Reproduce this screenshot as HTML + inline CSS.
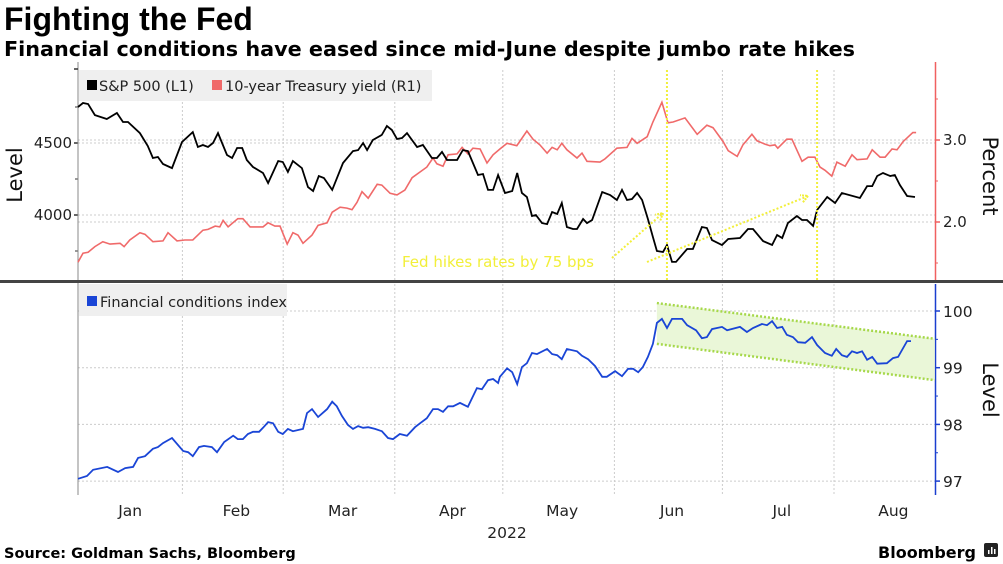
<!DOCTYPE html>
<html><head><meta charset="utf-8">
<style>
body{margin:0;background:#fff;width:1003px;height:564px;overflow:hidden;font-family:"DejaVu Sans","Liberation Sans",sans-serif;}
svg{display:block}
</style></head>
<body>
<svg id="c" width="1003" height="564" xmlns="http://www.w3.org/2000/svg">
<text x="4" y="30" font-family="Liberation Sans, sans-serif" font-weight="bold" font-size="32" fill="#000">Fighting the Fed</text>
<text x="4" y="56" font-family="DejaVu Sans, sans-serif" font-weight="bold" font-size="20.5" textLength="851" lengthAdjust="spacingAndGlyphs" fill="#000">Financial conditions have eased since mid-June despite jumbo rate hikes</text>
<g id="grid"></g>
<g id="marks"></g>
<text x="4" y="558" font-family="DejaVu Sans, sans-serif" font-weight="bold" font-size="14.5">Source: Goldman Sachs, Bloomberg</text>
<text x="976" y="558" text-anchor="end" font-family="DejaVu Sans, sans-serif" font-weight="bold" font-size="16">Bloomberg</text>
<g><rect x="984" y="543" width="14" height="14" rx="2" fill="#222"/><rect x="988" y="550" width="1.5" height="4" fill="#fff"/><rect x="991" y="547" width="1.5" height="7" fill="#fff"/><rect x="994" y="549" width="1.5" height="5" fill="#fff"/></g>
</svg>
<script>
const monthLabels=["Jan","Feb","Mar","Apr","May","Jun","Jul","Aug"];
const monthStarts=[0,31,59,90,120,151,181,212,243];
const spxTicks=[4000,4500];
const yldTicks=[2.0,3.0];
const fciTicks=[97,98,99,100];
const fedHikeDays=[165.6,207.3];
const spxDays=[2,3.4,4.8,6.7,10,12.8,14.5,15.9,19.2,21.4,22.8,24.2,25.6,28.1,30.9,33.9,35.3,36.7,38.1,39.5,40.9,43.4,44.8,46.2,47.6,48.9,50.6,53.4,54.8,57.6,58.9,60.3,61.7,64.2,65.9,67.3,68.9,70.3,72.6,75.6,78.4,79.8,81.2,82.3,83.9,86.4,87.8,89.2,90.6,92,93.4,96.2,97.8,100.3,101.7,103.1,104.5,107.3,108.9,110.3,113.1,114.5,115.9,117.3,118.7,120.6,122.6,124,125.3,126.7,128.1,129.2,130.9,132.3,133.7,135.1,136.4,137.8,139.5,140.6,142.3,143.4,144.8,147.6,149.8,151.7,153.1,154.5,155.9,157.3,158.7,160.3,161.7,162.8,164.5,165.6,167,168.1,171.2,172.8,175.3,176.7,178.1,180.9,182.6,185.9,188.1,189.5,192.3,194.8,196.2,197.6,199.2,201.7,203.1,204.5,206.2,207.3,210.1,212.3,214.2,219.2,221.2,222.6,224,225.6,227.6,228.9,230.3,232.3,234.5];
const spxValues=[4750,4778,4771,4694,4667,4708,4646,4646,4569,4479,4396,4403,4354,4326,4507,4576,4472,4486,4472,4500,4569,4417,4396,4465,4465,4382,4333,4292,4222,4375,4368,4299,4375,4326,4194,4167,4271,4257,4174,4361,4444,4451,4500,4451,4521,4556,4618,4590,4528,4535,4569,4472,4486,4396,4396,4438,4382,4382,4451,4444,4278,4285,4174,4174,4278,4153,4167,4292,4153,4125,3993,4000,3944,3937,4021,4007,4083,3917,3903,3903,3972,3944,3965,4160,4139,4104,4174,4104,4111,4153,4104,3972,3847,3750,3743,3792,3674,3674,3764,3764,3917,3910,3826,3792,3833,3840,3903,3903,3819,3792,3861,3840,3944,3993,3965,3965,3924,4035,4125,4083,4153,4118,4201,4201,4271,4292,4271,4278,4208,4132,4125];
const yldDays=[2,3.4,4.8,6.7,8.9,10.9,13.7,14.8,16.4,19.2,20.6,22.8,25.6,27,29.5,31.7,33.9,36.7,38.1,40.1,41.4,42.3,43.7,46.4,47.8,49.8,53.4,54.8,56.7,58.1,60.1,61.7,63.1,64.5,67,68.7,71.2,72.6,74.8,76.7,78.1,79.5,80.9,82.6,85.1,86.4,88.7,90.6,92.8,94.8,97,98.9,100.6,101.7,103.4,104.8,107.3,108.7,110.3,111.7,113.7,115.6,117.3,119.2,121.2,123.9,126.7,128.4,130.3,132.3,133.7,135.1,136.4,137.8,140.6,142,143.4,147,148.4,151.7,154.5,155.9,157.3,160.1,161.7,164.2,165.9,167.3,170.6,174,176.7,178.4,181.2,182.6,185.1,186.7,189.2,190.6,192.8,194.2,195.6,196.4,198.9,200.3,203.1,204.8,206.7,208.1,209.5,211.4,212.8,215.1,217,218.4,221.2,222.6,224.8,226.2,228.1,229.5,231.2,233.9,234.8];
const yldValues=[1.51,1.62,1.63,1.70,1.76,1.73,1.74,1.70,1.78,1.87,1.85,1.76,1.77,1.87,1.77,1.78,1.78,1.90,1.91,1.95,1.94,2.02,1.94,2.04,2.04,1.94,1.94,1.99,1.95,1.95,1.73,1.87,1.84,1.74,1.84,1.96,1.99,2.12,2.18,2.17,2.15,2.24,2.37,2.29,2.46,2.45,2.35,2.33,2.39,2.54,2.61,2.67,2.78,2.71,2.68,2.82,2.83,2.91,2.83,2.90,2.89,2.72,2.82,2.89,2.96,2.93,3.11,3.01,2.94,2.84,2.91,2.88,2.96,2.88,2.78,2.84,2.74,2.73,2.77,2.90,2.91,3.02,2.96,3.04,3.22,3.46,3.21,3.22,3.27,3.07,3.18,3.15,2.98,2.87,2.80,2.94,3.07,2.99,2.95,2.93,2.94,2.90,3.01,3.01,2.74,2.79,2.79,2.67,2.63,2.56,2.73,2.68,2.82,2.76,2.77,2.88,2.79,2.79,2.89,2.88,2.98,3.09,3.09];
const fciDays=[2,4.5,6.2,10.1,13.1,15.1,17.3,18.7,20.6,22.8,24.2,25.6,28.1,31.2,32.6,33.9,35.6,37,39.2,40.6,42.6,45.1,46.4,47.8,49.2,50.6,52.3,53.4,54.8,56.2,57.6,58.9,60.3,61.7,64.5,65.6,67,68.7,71.2,72.6,73.9,75.3,77,78.4,79.8,81.2,82.6,84.5,86.4,88.1,89.5,91.4,93.4,95.6,97,98.9,100.6,102,103.4,104.8,106.2,108.1,110.3,112.8,114.2,115.9,117.3,118.7,119.2,121.2,122.6,124,125.3,126.7,128.1,129.5,132.3,133.7,135.1,136.4,137.8,140.6,142,143.7,145.6,147.6,148.9,151.2,153.1,154.8,156.2,157.6,158.9,160.3,161.7,162.8,164.2,165.6,167,169.8,171.2,173.7,175.3,176.7,178.1,180.9,182.3,185.9,187.8,189.5,192,193.4,194.8,196.2,197.6,198.9,200.6,202,204,205.9,207.3,209.5,211.4,212.6,214.2,215.6,217,218.4,219.8,221.2,222.6,224,226.7,228.4,229.8,232.3,233.4];
const fciValues=[97.04,97.09,97.20,97.25,97.16,97.23,97.25,97.41,97.44,97.57,97.60,97.67,97.76,97.53,97.51,97.44,97.60,97.62,97.60,97.51,97.69,97.80,97.74,97.74,97.83,97.87,97.87,97.94,98.04,98.02,97.87,97.83,97.92,97.88,97.92,98.20,98.27,98.13,98.27,98.40,98.32,98.15,97.99,97.92,97.97,97.94,97.95,97.92,97.88,97.76,97.74,97.83,97.80,97.95,98.02,98.11,98.27,98.27,98.22,98.32,98.32,98.38,98.31,98.64,98.62,98.78,98.80,98.73,98.84,98.99,98.92,98.71,99.01,99.08,99.26,99.24,99.33,99.24,99.22,99.15,99.33,99.29,99.21,99.15,99.03,98.84,98.84,98.94,98.85,98.98,98.98,98.92,99.01,99.19,99.42,99.79,99.86,99.70,99.86,99.86,99.75,99.66,99.52,99.54,99.68,99.72,99.66,99.72,99.63,99.70,99.77,99.75,99.82,99.70,99.72,99.58,99.54,99.45,99.44,99.54,99.40,99.26,99.21,99.33,99.22,99.19,99.29,99.26,99.29,99.14,99.19,99.07,99.08,99.17,99.19,99.47,99.47];
const channelDays=[162.8,240];
const channelUpper=[100.14,99.51];
const channelLower=[99.42,98.78];

const NS="http://www.w3.org/2000/svg";
const X0=78,X1=935;
const xS=d=>X0+(d-2)*3.6;
const ySpx=v=>143-(v-4500)/500*72;
const yYld=v=>140-(v-3.0)*82;
const yFci=v=>311-(v-100)*56.7;
const grid=document.getElementById('grid'), marks=document.getElementById('marks');
function mk(tag,attrs,parent){const e=document.createElementNS(NS,tag);for(const k in attrs)e.setAttribute(k,attrs[k]);parent.appendChild(e);return e;}
function pathOf(days,vals,ys){return days.map((d,i)=>(i?'L':'M')+xS(d).toFixed(1)+','+ys(vals[i]).toFixed(1)).join('');}
const TT=70,TB=280,BT=284,BB=495;
for(let i=1;i<monthStarts.length-1;i++){const x=xS(monthStarts[i]);
 let g=mk('line',{x1:x,x2:x,y1:TT,y2:TB,stroke:'#ccc','stroke-dasharray':'2,2'},grid);
 
 g=mk('line',{x1:x,x2:x,y1:BT,y2:BB,stroke:'#ccc','stroke-dasharray':'2,2'},grid);
 }
spxTicks.forEach(v=>{const y=ySpx(v);
 let g=mk('line',{x1:X0,x2:X1,y1:y,y2:y,stroke:'#ccc','stroke-dasharray':'2,2'},grid);
 
 mk('line',{x1:X0-4,x2:X0,y1:y,y2:y,stroke:'#333','stroke-width':1.5},grid);
 const t=mk('text',{x:X0-6,y:y+5,'text-anchor':'end','font-size':15,fill:'#222'},grid);t.textContent=v;
 });
[4750,4250,3750].forEach(v=>mk('line',{x1:X0-3,x2:X0,y1:ySpx(v),y2:ySpx(v),stroke:'#333'},grid));
yldTicks.forEach(v=>{const y=yYld(v);
 let g=mk('line',{x1:X0,x2:X1,y1:y,y2:y,stroke:'#ccc','stroke-dasharray':'2,2'},grid);
 
 mk('line',{x1:X1,x2:X1+5,y1:y,y2:y,stroke:'#f06060','stroke-width':1.5},grid);
 const t=mk('text',{x:X1+8,y:y+5,'font-size':15,fill:'#222'},grid);t.textContent=v.toFixed(1);
 });
[3.5,2.5,1.5].forEach(v=>mk('line',{x1:X1,x2:X1+3,y1:yYld(v),y2:yYld(v),stroke:'#f06060'},grid));
fciTicks.forEach(v=>{const y=yFci(v);
 let g=mk('line',{x1:X0,x2:X1,y1:y,y2:y,stroke:'#ccc','stroke-dasharray':'2,2'},grid);
 
 mk('line',{x1:X1,x2:X1+5,y1:y,y2:y,stroke:'#1a3fcf','stroke-width':1.5},grid);
 const t=mk('text',{x:X1+8,y:y+6,'font-size':15.5,fill:'#222'},grid);t.textContent=v;
 });
[99.5,98.5,97.5].forEach(v=>mk('line',{x1:X1,x2:X1+3,y1:yFci(v),y2:yFci(v),stroke:'#1a3fcf'},grid));
let a=mk('line',{x1:X0,x2:X0,y1:TT-8,y2:BB,stroke:'#888'},grid);
a=mk('line',{x1:X1+0.5,x2:X1+0.5,y1:TT-8,y2:TB,stroke:'#f06060','stroke-width':1.5},grid);
a=mk('line',{x1:X1+0.5,x2:X1+0.5,y1:BT,y2:BB,stroke:'#1a3fcf','stroke-width':1.5},grid);
mk('line',{x1:X0-4,x2:X0,y1:TT-1,y2:TT-1,stroke:'#333','stroke-width':1.5},grid);
a=mk('rect',{x:0,y:280,width:1003,height:3,fill:'#444'},grid);
monthLabels.forEach((m,i)=>{const t=mk('text',{x:xS((monthStarts[i]+monthStarts[i+1])/2+1),y:516,'text-anchor':'middle','font-size':15.5,fill:'#222'},grid);t.textContent=m;
 });
let t=mk('text',{x:507,y:538,'text-anchor':'middle','font-size':15.5,fill:'#222'},grid);t.textContent='2022';

t=mk('text',{x:0,y:0,transform:'translate(22,175) rotate(-90)','text-anchor':'middle','font-size':21,fill:'#111'},grid);t.textContent='Level';

t=mk('text',{x:0,y:0,transform:'translate(983,176) rotate(90)','text-anchor':'middle','font-size':21,fill:'#111'},grid);t.textContent='Percent';

t=mk('text',{x:0,y:0,transform:'translate(983,390) rotate(90)','text-anchor':'middle','font-size':21,fill:'#111'},grid);t.textContent='Level';

const cp=[[channelDays[0],channelUpper[0]],[channelDays[1],channelUpper[1]]].map(p=>xS(p[0])+','+yFci(p[1])).concat([[channelDays[1],channelLower[1]],[channelDays[0],channelLower[0]]].map(p=>xS(p[0])+','+yFci(p[1]))).join(' ');
let e=mk('polygon',{points:cp,fill:'#eaf7d8'},marks);
[channelUpper,channelLower].forEach((arr,k)=>{const l=mk('line',{x1:xS(channelDays[0]),x2:xS(channelDays[1]),y1:yFci(arr[0]),y2:yFci(arr[1]),stroke:'#a6d84a','stroke-width':2.5,'stroke-dasharray':'2,2'},marks);
 });
e=mk('path',{d:pathOf(yldDays,yldValues,yYld),fill:'none',stroke:'#f06a6a','stroke-width':1.6},marks);
e=mk('path',{d:pathOf(spxDays,spxValues,ySpx),fill:'none',stroke:'#000','stroke-width':1.8},marks);
e=mk('path',{d:pathOf(fciDays,fciValues,yFci),fill:'none',stroke:'#1a45d6','stroke-width':1.8},marks);
fedHikeDays.forEach(d=>{const l=mk('line',{x1:xS(d),x2:xS(d),y1:TT,y2:TB,stroke:'#f2ef3a','stroke-width':2,'stroke-dasharray':'2,2'},marks);
 });
const arrows=[[612,258,663,213],[647,262,808,196]];
arrows.forEach(p=>{const l=mk('line',{x1:p[0],y1:p[1],x2:p[2],y2:p[3],stroke:'#f2ef3a','stroke-width':2,'stroke-dasharray':'2,2'},marks);
 
 const ang=Math.atan2(p[3]-p[1],p[2]-p[0]);const h=8;
 mk('polyline',{points:`${p[2]-h*Math.cos(ang-0.5)},${p[3]-h*Math.sin(ang-0.5)} ${p[2]},${p[3]} ${p[2]-h*Math.cos(ang+0.5)},${p[3]-h*Math.sin(ang+0.5)}`,fill:'none',stroke:'#f2ef3a','stroke-width':2,'stroke-dasharray':'2,1'},marks);});
t=mk('text',{x:402,y:267,'font-size':15,fill:'#f2ef3a'},marks);t.textContent='Fed hikes rates by 75 bps';

let lg=mk('g',{},marks);
mk('rect',{x:79,y:70,width:353,height:31,fill:'#efefef'},lg);
mk('rect',{x:87,y:80,width:10,height:10,fill:'#000'},lg);
t=mk('text',{x:99,y:91,'font-size':14.5,fill:'#222'},lg);t.textContent='S&P 500  (L1)';

mk('rect',{x:212,y:80,width:10,height:10,fill:'#f06a6a'},lg);
t=mk('text',{x:225,y:91,'font-size':14.5,fill:'#222'},lg);t.textContent='10-year Treasury yield (R1)';

lg=mk('g',{},marks);
mk('rect',{x:79,y:284,width:208,height:32,fill:'#efefef'},lg);
mk('rect',{x:87,y:296,width:10,height:10,fill:'#1a45d6'},lg);
t=mk('text',{x:100,y:307,'font-size':14.5,fill:'#222'},lg);t.textContent='Financial conditions index';

</script>
</body></html>
